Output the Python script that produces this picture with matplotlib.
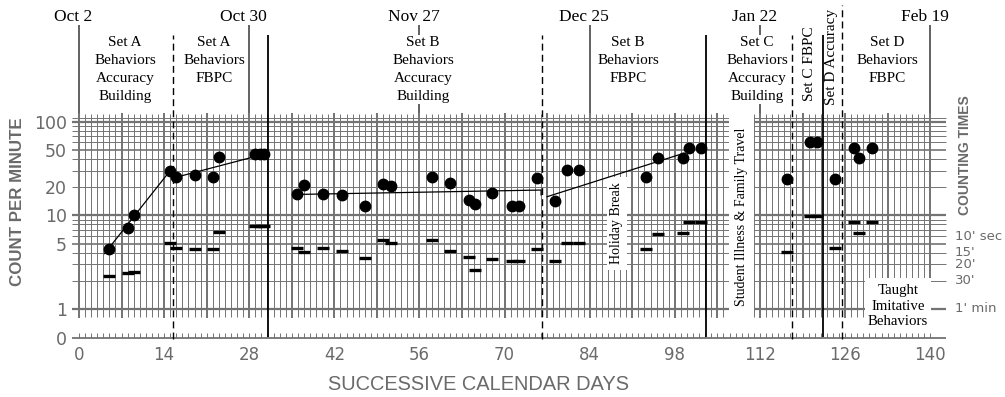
import matplotlib
matplotlib.use('Agg')
import matplotlib.pyplot as plt
from matplotlib.patches import Rectangle
from matplotlib.ticker import NullLocator

# sessions: calendar day, count per minute (dots), record floor (dashes)
days = [4.9, 8.1, 9.1, 14.9, 16.0, 19.1, 22.0, 23.1, 29.0, 29.7, 30.4,
        35.9, 37.0, 40.1, 43.2, 47.0, 50.0, 51.3, 58.1, 61.1, 64.1, 65.1,
        68.0, 71.3, 72.3, 75.3, 78.3, 80.3, 82.2, 93.3, 95.3, 99.3, 100.4,
        102.3, 116.4, 120.3, 121.4, 124.3, 127.4, 128.3, 130.4]
counts = [4.4, 7.4, 10, 30, 25.4, 26.7, 25.4, 41.6, 45, 45, 45,
          16.7, 20.9, 16.9, 16.5, 12.7, 21.4, 20.4, 25.6, 21.9, 14.5, 13.2,
          17.2, 12.7, 12.7, 25, 14.3, 30.4, 30.4, 25.4, 40.6, 40.6, 52.7,
          52.7, 24.4, 60, 60, 24.4, 52.7, 40.6, 52.7]
floors = [2.25, 2.4, 2.5, 5.1, 4.5, 4.4, 4.4, 6.7, 7.6, 7.6, 7.6,
          4.5, 4.06, 4.5, 4.16, 3.5, 5.4, 5.06, 5.4, 4.16, 3.6, 2.63,
          3.45, 3.25, 3.25, 4.33, 3.23, 5.06, 5.06, 4.4, 6.27, 6.4, 8.4,
          8.4, 4.09, 9.9, 9.9, 4.5, 8.4, 6.47, 8.4]

# celeration lines
cel_x = [[4.2, 15, 16, 30.5], [36, 76, 76], [77, 99.5]]
cel_y = [[3.9, 30, 25.5, 45], [16.7, 18.6, 16.5], [15.8, 46]]

date_days = [0, 28, 56, 84, 112, 140]
date_labels = ['Oct 2', 'Oct 30', 'Nov 27', 'Dec 25', 'Jan 22', 'Feb 19']

solid_days = [31.1, 103.1, 122.4]
dashed_days = [15.5, 76.2, 117.3, 125.5]

phase_days = [7.6, 22.2, 56.6, 90.3, 111.5, 133.0]
phase_labels = ['Set A\nBehaviors\nAccuracy\nBuilding',
                'Set A\nBehaviors\nFBPC',
                'Set B\nBehaviors\nAccuracy\nBuilding',
                'Set B\nBehaviors\nFBPC',
                'Set C\nBehaviors\nAccuracy\nBuilding',
                'Set D\nBehaviors\nFBPC']

ytick_vals = [0.49, 1, 5, 10, 20, 50, 100]
ytick_labels = ['0', '1', '5', '10', '20', '50', '100']
xtick_vals = list(range(0, 141, 14))

ct_vals = [6, 4, 3, 2, 1]
ct_labels = ["10' sec", "15'", "20'", "30'", "1' min"]

SERIF = 'Liberation Serif'
SANS = 'DejaVu Sans'
HEAD = 'Liberation Sans'
GRID = '#737373'
GREY_TXT = '#6a6a6a'

fig = plt.figure(figsize=(10.05, 3.97), dpi=100)
ax = fig.add_axes([0.06953, 0.13275, 0.87721, 0.83854])
ax.set_yscale('log')
ax.set_xlim(-1.5, 143.5)
ax.set_ylim(0.42, 1500)
for s in ax.spines.values():
    s.set_visible(False)
ax.yaxis.set_minor_locator(NullLocator())

# grid
hv = list(range(1, 10)) + list(range(10, 100, 10)) + [100]
for v in hv:
    if v in (1, 10, 100):
        lw = 1.6
    elif v in (5, 50):
        lw = 1.2
    else:
        lw = 0.7
    ax.hlines(v, -1.2, 142.6, color=GRID, lw=lw, zorder=1)
ax.hlines(109, -1.2, 142.6, color=GRID, lw=0.7, zorder=1)
for d in range(0, 141):
    if d % 7 == 0:
        ax.vlines(d, 0.81, 124, color=GRID, lw=1.4, zorder=1)
    else:
        ax.vlines(d, 0.82, 120, color=GRID, lw=0.7, zorder=1)
# zero row
ax.hlines(0.49, -1.2, 142.6, color=GRID, lw=1.3, zorder=1)
ax.vlines(range(0, 141), 0.49, 0.56, color=GRID, lw=0.7, zorder=1)

# blank strips
ax.add_patch(Rectangle((106.9, 0.8), 4.1, 125, facecolor='white', edgecolor='none', zorder=2))
ax.add_patch(Rectangle((86.8, 2.6), 3.3, 23.0, facecolor='white', edgecolor='none', zorder=2))
ax.add_patch(Rectangle((129.3, 0.58), 10.9, 1.57, facecolor='white', edgecolor='none', zorder=2))

# date lines and labels
ax.vlines(date_days, 124, 1074, color='#555555', lw=1.3, zorder=2)
for d, lab in zip(date_days, date_labels):
    ax.text(d - 0.9, 1300, lab, ha='center', va='center', fontsize=12.5, family=SERIF)

# phase labels
for d, lab in zip(phase_days, phase_labels):
    ax.text(d, 820, lab, ha='center', va='top', fontsize=11, family=SERIF,
            linespacing=1.5, zorder=3,
            bbox=dict(facecolor='white', edgecolor='none', pad=1))
ax.text(120.2, 412, 'Set C FBPC', rotation=90, ha='center', va='center',
        fontsize=11, family=SERIF, zorder=3)
ax.text(123.8, 489, 'Set D Accuracy', rotation=90, ha='center', va='center',
        fontsize=11, family=SERIF, zorder=3)

# phase change lines
ax.vlines(solid_days, 0.5, 840, color='k', lw=1.3, zorder=4)
ax.vlines(dashed_days[:3], 0.48, 850, color='k', lw=1.0, linestyles=(0, (5, 3)), zorder=4)
ax.vlines(dashed_days[3:], 0.48, 1750, color='k', lw=1.0, linestyles=(0, (5, 3)),
          zorder=4, clip_on=False)

# notes
ax.text(88.4, 8.3, 'Holiday Break', rotation=90, ha='center', va='center',
        fontsize=10, family=SERIF, zorder=3)
ax.text(108.9, 9.6, 'Student Illness & Family Travel', rotation=90, ha='center',
        va='center', fontsize=10, family=SERIF, zorder=3)
ax.text(134.7, 1.07, 'Taught\nImitative\nBehaviors', ha='center', va='center',
        fontsize=10.7, family=SERIF, linespacing=1.25, zorder=3)

# data
for xs, ys in zip(cel_x, cel_y):
    ax.plot(xs, ys, color='k', lw=0.9, zorder=5)
ax.plot(days, counts, 'o', color='k', ms=7.5, zorder=6)
ax.plot(days, floors, '_', color='k', ms=9, mew=2.4, zorder=6)

# axes labels
ax.set_yticks(ytick_vals)
ax.set_yticklabels(ytick_labels)
ax.set_xticks(xtick_vals)
ax.set_xticklabels([str(v) for v in xtick_vals])
ax.tick_params(axis='y', length=0, pad=2, labelsize=12.5, labelcolor=GREY_TXT)
ax.tick_params(axis='x', length=0, pad=1, labelsize=12, labelcolor=GREY_TXT)
for t in ax.get_xticklabels() + ax.get_yticklabels():
    t.set_family(SANS)

for v, lab in zip(ct_vals, ct_labels):
    ax.text(144.0, v, lab, ha='left', va='center', fontsize=9.5, color=GREY_TXT,
            family=SANS)
ax.text(145.8, 44, 'COUNTING TIMES', rotation=90, ha='center', va='center',
        fontsize=10, fontweight='bold', color=GREY_TXT, family=HEAD)

fig.text(17.5 / 1005, 1 - 202 / 397, 'COUNT PER MINUTE', rotation=90, ha='center',
         va='center', fontsize=12.2, fontweight='bold', color=GREY_TXT, family=HEAD)
fig.text(478 / 1005, 1 - 385 / 397, 'SUCCESSIVE CALENDAR DAYS', ha='center',
         va='center', fontsize=14.4, color=GREY_TXT, family=HEAD)

fig.savefig('out.png', dpi=100, facecolor='white')
